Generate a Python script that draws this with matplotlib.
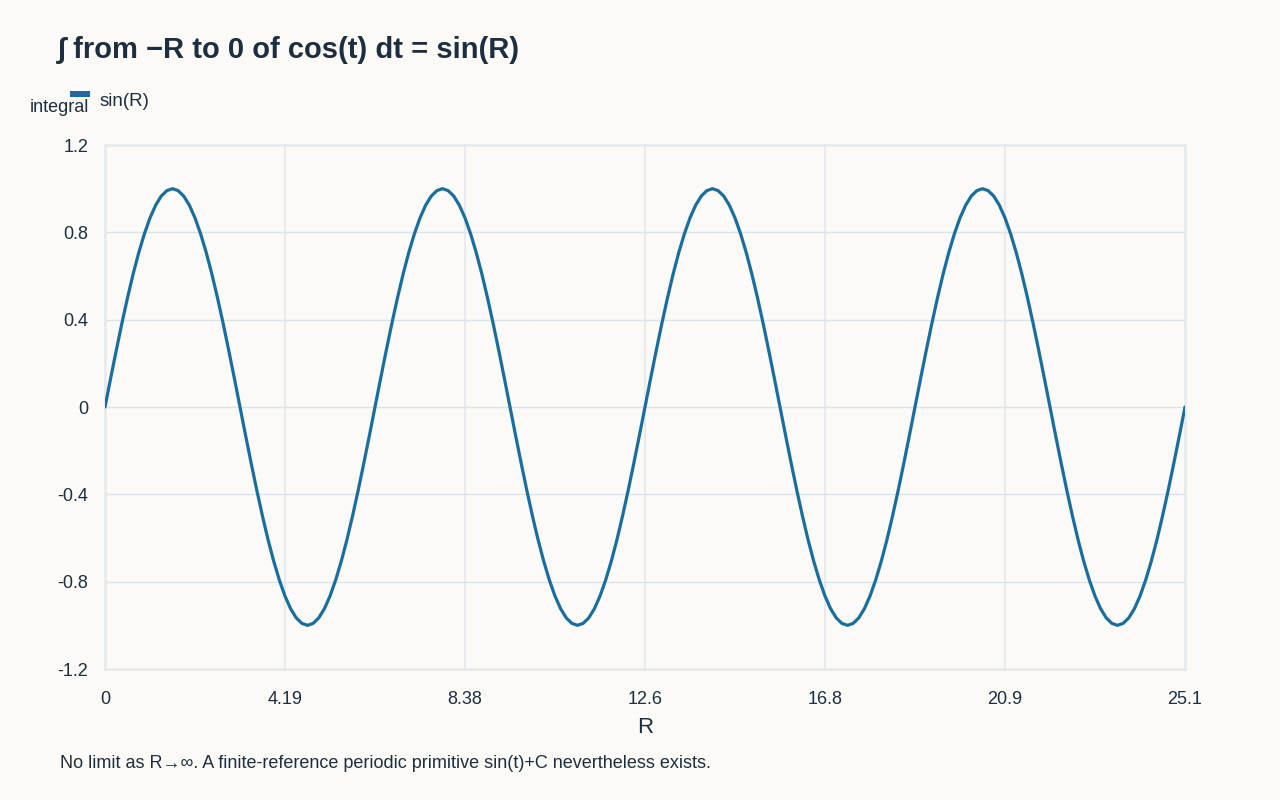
import numpy as np
import matplotlib
matplotlib.use("Agg")
import matplotlib.pyplot as plt
from matplotlib.patches import Rectangle

plt.rcParams['font.family'] = ['Liberation Sans', 'DejaVu Sans']

R_start = 0.0
R_end = 25.133
integral_values = [
    0.000, 0.131, 0.259, 0.383, 0.500, 0.609, 0.707, 0.793, 0.866, 0.924, 0.966, 0.991,
    1.000, 0.991, 0.966, 0.924, 0.866, 0.793, 0.707, 0.609, 0.500, 0.383, 0.259, 0.131,
    0.000, -0.131, -0.259, -0.383, -0.500, -0.609, -0.707, -0.793, -0.866, -0.924, -0.966, -0.991,
    -1.000, -0.991, -0.966, -0.924, -0.866, -0.793, -0.707, -0.609, -0.500, -0.383, -0.259, -0.131,
    0.000, 0.131, 0.259, 0.383, 0.500, 0.609, 0.707, 0.793, 0.866, 0.924, 0.966, 0.991,
    1.000, 0.991, 0.966, 0.924, 0.866, 0.793, 0.707, 0.609, 0.500, 0.383, 0.259, 0.131,
    0.000, -0.131, -0.259, -0.383, -0.500, -0.609, -0.707, -0.793, -0.866, -0.924, -0.966, -0.991,
    -1.000, -0.991, -0.966, -0.924, -0.866, -0.793, -0.707, -0.609, -0.500, -0.383, -0.259, -0.131,
    0.000, 0.131, 0.259, 0.383, 0.500, 0.609, 0.707, 0.793, 0.866, 0.924, 0.966, 0.991,
    1.000, 0.991, 0.966, 0.924, 0.866, 0.793, 0.707, 0.609, 0.500, 0.383, 0.259, 0.131,
    0.000, -0.131, -0.259, -0.383, -0.500, -0.609, -0.707, -0.793, -0.866, -0.924, -0.966, -0.991,
    -1.000, -0.991, -0.966, -0.924, -0.866, -0.793, -0.707, -0.609, -0.500, -0.383, -0.259, -0.131,
    0.000, 0.131, 0.259, 0.383, 0.500, 0.609, 0.707, 0.793, 0.866, 0.924, 0.966, 0.991,
    1.000, 0.991, 0.966, 0.924, 0.866, 0.793, 0.707, 0.609, 0.500, 0.383, 0.259, 0.131,
    0.000, -0.131, -0.259, -0.383, -0.500, -0.609, -0.707, -0.793, -0.866, -0.924, -0.966, -0.991,
    -1.000, -0.991, -0.966, -0.924, -0.866, -0.793, -0.707, -0.609, -0.500, -0.383, -0.259, -0.131,
    0.000,
]
R_values = np.linspace(R_start, R_end, len(integral_values))

x_ticks = [0.0, 4.189, 8.378, 12.566, 16.755, 20.944, 25.133]
x_tick_labels = ["0", "4.19", "8.38", "12.6", "16.8", "20.9", "25.1"]
y_ticks = [-1.2, -0.8, -0.4, 0.0, 0.4, 0.8, 1.2]
y_tick_labels = ["-1.2", "-0.8", "-0.4", "0", "0.4", "0.8", "1.2"]

title = "\u222b from \u2212R to 0 of cos(t) dt = sin(R)"
series_name = "sin(R)"
y_label = "integral"
x_label = "R"
note = "No limit as R\u2192\u221e. A finite-reference periodic primitive sin(t)+C nevertheless exists."

BG = "#fbfaf7"
LINE = "#1a6e9e"
TEXT = "#1c2e3f"
FRAME = "#e6e9eb"

W, H = 1280, 800
fig = plt.figure(figsize=(12.8, 8.0), dpi=100, facecolor=BG)
ax = fig.add_axes([105 / W, 1 - 669 / H, (1185 - 105) / W, (669 - 145) / H])
ax.set_facecolor(BG)

ax.plot(R_values, integral_values, color=LINE, lw=2.3, solid_capstyle='round',
        solid_joinstyle='round', zorder=3)

ax.set_xlim(R_start, R_end)
ax.set_ylim(-1.2, 1.2)
ax.set_xticks(x_ticks)
ax.set_xticklabels(x_tick_labels)
ax.set_yticks(y_ticks)
ax.set_yticklabels(y_tick_labels)
ax.tick_params(length=0, labelsize=13, colors=TEXT)
ax.tick_params(axis='x', pad=16)
ax.tick_params(axis='y', pad=12)

for xv in x_ticks[1:-1]:
    ax.axvline(xv, color="#e8eaec", lw=1.4, zorder=1)
for yv in y_ticks[1:-1]:
    ax.axhline(yv, color="#dbe4ea", lw=1.0, zorder=1)

for s in ax.spines.values():
    s.set_color(FRAME)
    s.set_linewidth(1.8)

ax.set_xlabel(x_label, fontsize=16, color=TEXT, labelpad=6)

fig.text(58 / W, 1 - 50 / H, title, fontsize=21, fontweight='bold', color=TEXT,
         ha='left', va='center')
fig.text(30 / W, 1 - 107 / H, y_label, fontsize=13, color=TEXT, ha='left', va='center')
fig.patches.append(Rectangle((70 / W, 1 - 97 / H), 20 / W, 6 / H,
                             transform=fig.transFigure, facecolor=LINE, edgecolor='none'))
fig.text(100 / W, 1 - 101 / H, series_name, fontsize=13.5, color=TEXT, ha='left', va='center')
fig.text(60 / W, 1 - 764 / H, note, fontsize=13, color=TEXT, ha='left', va='center')

fig.savefig("out.png", dpi=100, facecolor=BG)
